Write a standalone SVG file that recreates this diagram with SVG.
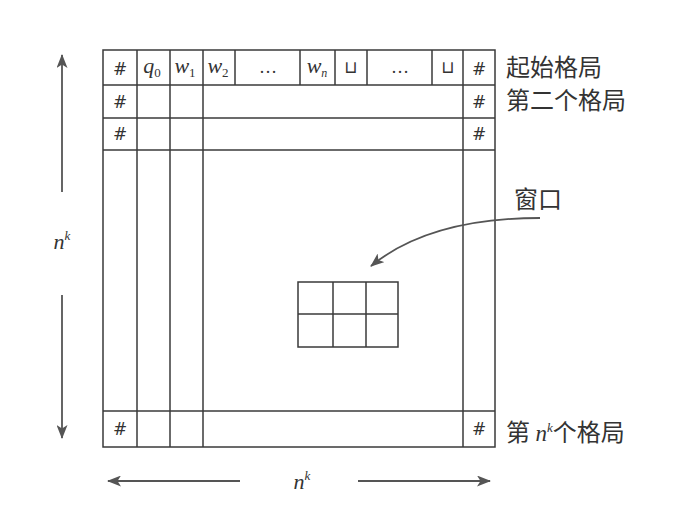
<svg xmlns="http://www.w3.org/2000/svg" width="683" height="505" viewBox="0 0 683 505">
<defs>
<style>
.g{stroke:#3a3a3a;stroke-width:1.5;fill:none}
.t{font-family:"Liberation Serif",serif;fill:#333;text-anchor:middle}
.h{font-family:"DejaVu Sans",sans-serif;font-size:17px;fill:#333;text-anchor:middle}
.i{font-family:"Liberation Serif",serif;font-style:italic;font-size:22px;fill:#333;text-anchor:middle}
.s{font-size:13px;font-style:normal}
.c{font-family:"Noto Sans CJK SC",sans-serif;font-size:24px;fill:#333}
.a{stroke:#555;stroke-width:1.8;fill:none}
</style>
<marker id="ah" viewBox="0 0 14 11" refX="13" refY="5.5" markerWidth="14" markerHeight="11" markerUnits="userSpaceOnUse" orient="auto">
<path d="M0,0 L14,5.5 L0,11 L3.5,5.5 Z" fill="#555"/>
</marker>
</defs>
<g id="tape-grid">
<rect class="g" x="103" y="50" width="392" height="397"/>
<line class="g" x1="103" y1="85" x2="495" y2="85"/>
<line class="g" x1="103" y1="118" x2="495" y2="118"/>
<line class="g" x1="103" y1="150" x2="495" y2="150"/>
<line class="g" x1="103" y1="411" x2="495" y2="411"/>
<line class="g" x1="137" y1="50" x2="137" y2="447"/>
<line class="g" x1="170" y1="50" x2="170" y2="447"/>
<line class="g" x1="203" y1="50" x2="203" y2="447"/>
<line class="g" x1="463" y1="50" x2="463" y2="447"/>
<line class="g" x1="235" y1="50" x2="235" y2="85"/>
<line class="g" x1="300" y1="50" x2="300" y2="85"/>
<line class="g" x1="335" y1="50" x2="335" y2="85"/>
<line class="g" x1="367" y1="50" x2="367" y2="85"/>
<line class="g" x1="432" y1="50" x2="432" y2="85"/>
</g>
<g id="cell-texts">
<text class="h" x="120" y="75">#</text>
<text class="i" x="152" y="73">q<tspan class="s" dy="4">0</tspan></text>
<text class="i" x="185" y="73">w<tspan class="s" dy="4">1</tspan></text>
<text class="i" x="218" y="73">w<tspan class="s" dy="4">2</tspan></text>
<text class="t" x="268" y="73" font-size="18">…</text>
<text class="i" x="317" y="73">w<tspan dy="4" font-size="12">n</tspan></text>
<text class="h" x="351" y="73" font-size="14">⊔</text>
<text class="t" x="400" y="73" font-size="18">…</text>
<text class="h" x="448" y="73" font-size="14">⊔</text>
<text class="h" x="479" y="75">#</text>
<text class="h" x="120" y="108">#</text>
<text class="h" x="479" y="108">#</text>
<text class="h" x="120" y="140">#</text>
<text class="h" x="479" y="140">#</text>
<text class="h" x="120" y="435">#</text>
<text class="h" x="479" y="435">#</text>
</g>
<g id="window">
<rect class="g" x="298" y="282" width="100" height="65"/>
<line class="g" x1="298" y1="314" x2="398" y2="314"/>
<line class="g" x1="333" y1="282" x2="333" y2="347"/>
<line class="g" x1="366" y1="282" x2="366" y2="347"/>
</g>
<g id="labels">
<text class="c" x="506" y="76">起始格局</text>
<text class="c" x="506" y="109">第二个格局</text>
<text class="c" x="514" y="208" font-size="23">窗口</text>
<text class="c" x="506" y="441">第 <tspan font-family="Liberation Serif,serif" font-style="italic" font-size="23">n</tspan><tspan font-family="Liberation Serif,serif" font-style="italic" font-size="13" dy="-9">k</tspan><tspan dy="9">个格局</tspan></text>
<text class="i" x="62" y="249">n<tspan font-size="13" dy="-9">k</tspan></text>
<text class="i" x="302" y="489">n<tspan font-size="13" dy="-9">k</tspan></text>
</g>
<g id="connectors">
<path class="a" d="M540,218 Q430,218 371,266" marker-end="url(#ah)"/>
<line class="a" x1="62" y1="192" x2="62" y2="55" marker-end="url(#ah)"/>
<line class="a" x1="62" y1="295" x2="62" y2="438" marker-end="url(#ah)"/>
<line class="a" x1="240" y1="481" x2="108" y2="481" marker-end="url(#ah)"/>
<line class="a" x1="358" y1="481" x2="490" y2="481" marker-end="url(#ah)"/>
</g>
</svg>
